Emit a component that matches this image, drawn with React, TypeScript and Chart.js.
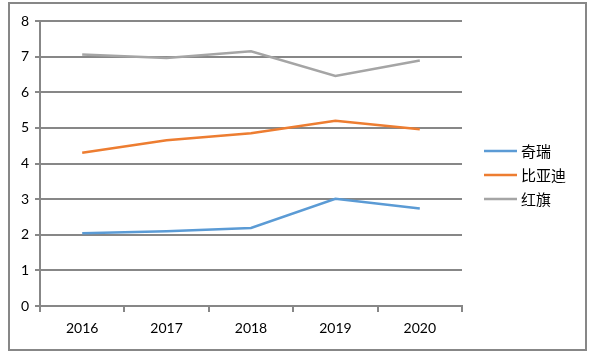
import React, { useEffect, useRef } from "react";
import { Chart, registerables } from "chart.js";

Chart.register(...registerables);

const categories = ["2016", "2017", "2018", "2019", "2020"];
const seriesNames = ["奇瑞", "比亚迪", "红旗"];
const cheryValues = [2.04, 2.1, 2.19, 3.01, 2.74];
const bydValues = [4.3, 4.65, 4.85, 5.2, 4.96];
const hongqiValues = [7.06, 6.96, 7.15, 6.46, 6.89];
const seriesColors = ["#5B9BD5", "#ED7D31", "#A5A5A5"];
const yMin = 0;
const yMax = 8;
const yStep = 1;

const GRID = "#878787";

const framePlugin = {
  id: "frame",
  beforeDraw(chart: any) {
    const { ctx, width, height } = chart;
    ctx.save();
    ctx.fillStyle = "#ffffff";
    ctx.fillRect(0, 0, width, height);
    ctx.strokeStyle = GRID;
    ctx.lineWidth = 2;
    ctx.strokeRect(9, 3, width - 24, height - 7);
    ctx.restore();
  },
};

const sideLegendPlugin = {
  id: "sideLegend",
  afterDraw(chart: any) {
    const { ctx, chartArea, height } = chart;
    const ds = chart.data.datasets;
    const spacing = 24;
    const cy = height / 2 - 2;
    const x0 = chartArea.right + 22;
    ctx.save();
    ds.forEach((d: any, i: number) => {
      const y = cy + (i - (ds.length - 1) / 2) * spacing;
      ctx.strokeStyle = d.borderColor;
      ctx.lineWidth = d.borderWidth;
      ctx.beginPath();
      ctx.moveTo(x0, y);
      ctx.lineTo(x0 + 33, y);
      ctx.stroke();
      ctx.fillStyle = "#000";
      ctx.font = '15px "Noto Sans CJK SC"';
      ctx.textBaseline = "middle";
      ctx.textAlign = "left";
      ctx.fillText(d.label, x0 + 37, y);
    });
    ctx.restore();
  },
};

export default function App() {
  const ref = useRef<HTMLCanvasElement | null>(null);

  useEffect(() => {
    if (!ref.current) return;
    const values = [cheryValues, bydValues, hongqiValues];
    const chart = new Chart(ref.current, {
      type: "line",
      data: {
        labels: categories,
        datasets: seriesNames.map((name, i) => ({
          label: name,
          data: values[i],
          borderColor: seriesColors[i],
          backgroundColor: seriesColors[i],
          borderWidth: 2.5,
          pointRadius: 0,
          tension: 0,
          fill: false,
        })),
      },
      options: {
        animation: false,
        responsive: false,
        devicePixelRatio: 1,
        layout: { padding: { left: 0, top: 21, right: 139, bottom: 0 } },
        plugins: {
          legend: { display: false },
          tooltip: { enabled: false },
        },
        scales: {
          x: {
            type: "category",
            offset: true,
            afterFit: (s: any) => {
              s.height = 48;
            },
            grid: {
              drawOnChartArea: false,
              drawTicks: true,
              tickLength: 6,
              color: GRID,
              lineWidth: 2,
              offset: true,
            },
            border: { display: true, color: GRID, width: 2 },
            ticks: {
              color: "#000",
              padding: 8,
              font: { family: "Lato", size: 14 },
            },
          },
          y: {
            min: yMin,
            max: yMax,
            afterFit: (s: any) => {
              s.width = 40;
            },
            grid: {
              color: GRID,
              lineWidth: 2,
              drawTicks: true,
              tickLength: 5,
            },
            border: { display: true, color: GRID, width: 2 },
            ticks: {
              stepSize: yStep,
              color: "#000",
              padding: 6,
              font: { family: "Lato", size: 14 },
            },
          },
        },
      },
      plugins: [framePlugin, sideLegendPlugin],
    });
    return () => chart.destroy();
  }, []);

  return (
    <div style={{ position: "fixed", left: 0, top: 0, width: 601, height: 354 }}>
      <canvas ref={ref} width={601} height={354} style={{ width: 601, height: 354, display: "block" }} />
    </div>
  );
}
